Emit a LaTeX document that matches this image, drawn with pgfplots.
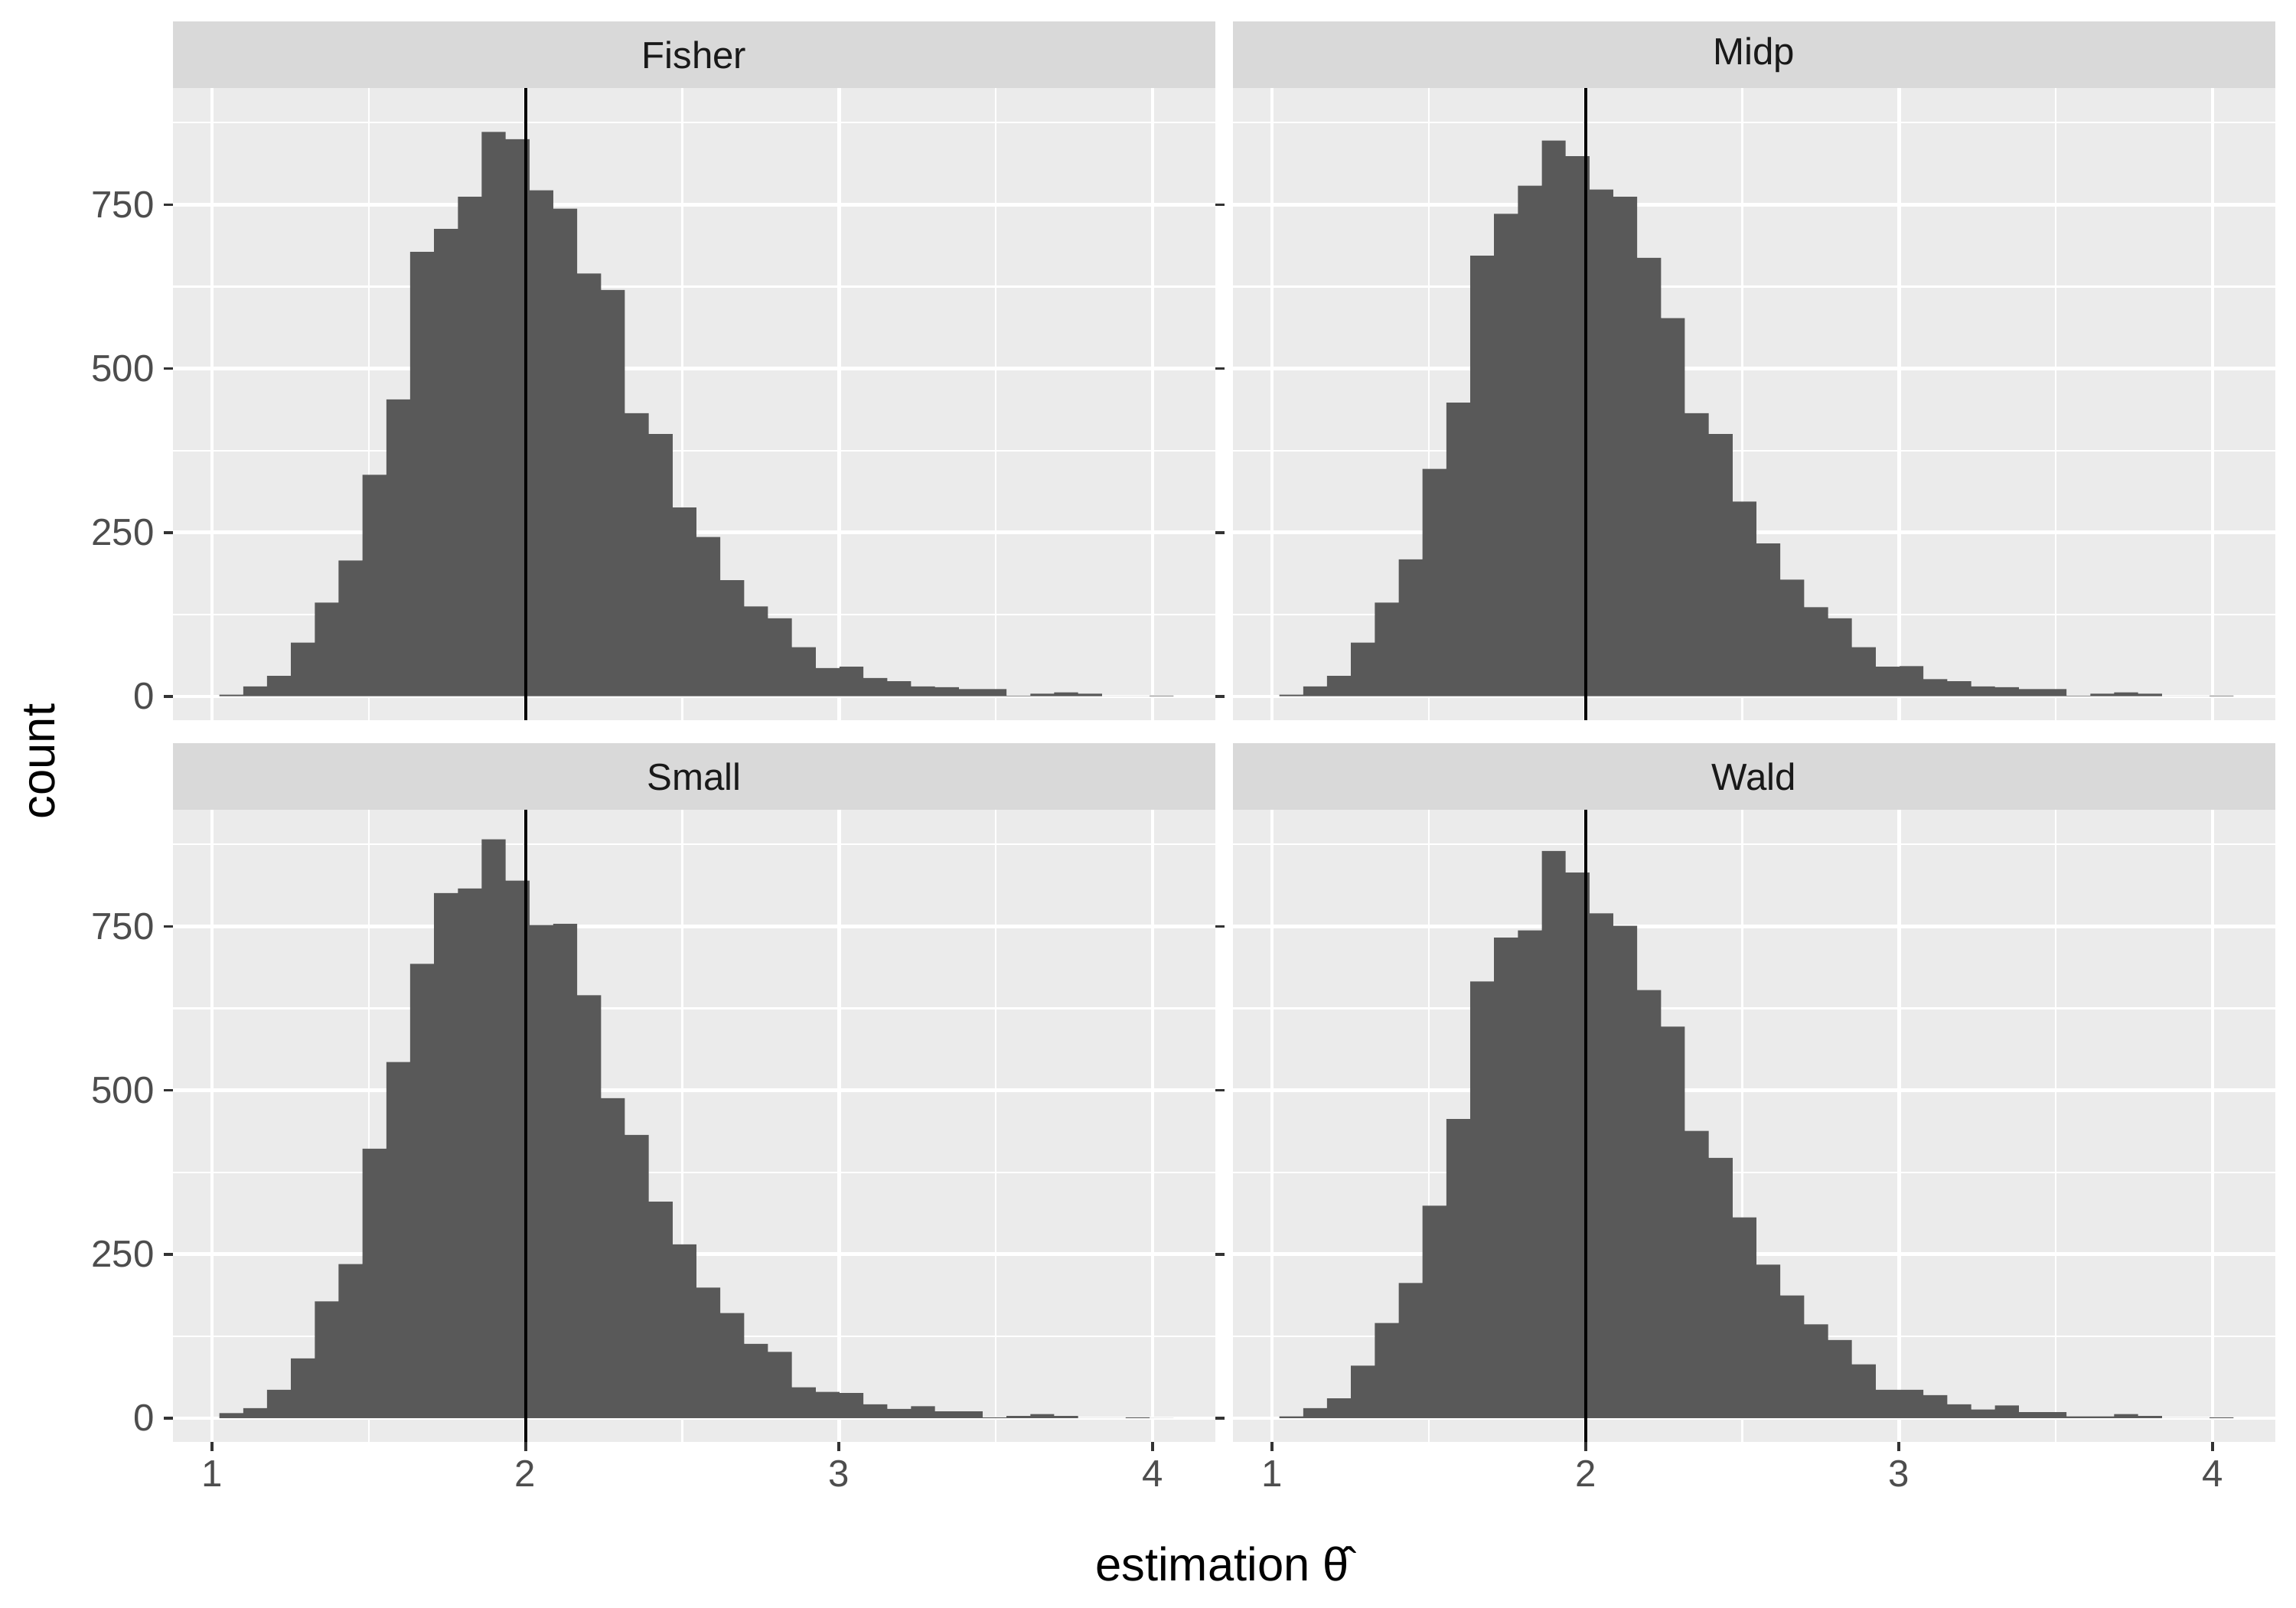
\documentclass[border=0pt]{standalone}
\usepackage{pgfplots}
\pgfplotsset{compat=1.18}
\usepackage{pgfplotstable}
\usepackage{fontspec}
\setmainfont{Liberation Sans}
\definecolor{panelbg}{RGB}{235,235,235}
\definecolor{stripbg}{RGB}{217,217,217}
\definecolor{barfill}{RGB}{89,89,89}
\definecolor{txt30}{RGB}{77,77,77}
\definecolor{tick20}{RGB}{51,51,51}
\pgfplotstableread{
e F M S W
1.0236 2.5 2.5 7.5 2.5
1.0997 15 15 15 15
1.1757 31 31 43 30
1.2518 82 82 91 80
1.3279 143 143 178 145
1.4040 207 209 235 206
1.4800 338 347 411 324
1.5561 453 448 543 456
1.6322 678 672 693 666
1.7083 713 736 801 733
1.7843 762 779 808 744
1.8604 861 848 883 865
1.9365 850 824 820 832
2.0125 772 773 752 770
2.0886 744 762 754 751
2.1647 645 669 645 653
2.2408 620 577 488 597
2.3168 432 432 432 438
2.3929 400 400 330 397
2.4690 288 297 265 306
2.5450 243 233 199 234
2.6211 177 178 160 187
2.6972 137 136 113 143
2.7733 119 119 101 119
2.8493 75 75 47 82
2.9254 43 45 40 43
3.0015 45 46 38 43
3.0775 28 26 21 35
3.1536 23 23 14 21
3.2297 15 15 18 13
3.3058 14 14 10 19
3.3818 11 11 10 9
3.4579 11 11 1 9
3.5340 1 1 3 2.5
3.6100 4 4 6 2.5
3.6861 6 6 3 6
3.7622 4 4 0 3
3.8383 0 0 0 0
3.9143 0 0 1 0
3.9904 1 1 0 1
4.0665 0 0 0 0
}\hist
\pgfplotsset{
  panel/.style={
    width=13.62cm, height=8.26cm, scale only axis,
    xmin=0.8756, xmax=4.200, ymin=-36.5, ymax=928,
    axis background/.style={fill=panelbg},
    axis line style={draw=none},
    xtick={1,2,3,4}, ytick={0,250,500,750},
    minor xtick={1.5,2.5,3.5}, minor ytick={125,375,625,875},
    grid=both,
    major grid style={white, line width=1.25pt},
    minor grid style={white, line width=0.6pt},
    tick align=outside, major tick length=0.12cm, minor tick length=0pt,
    tick style={tick20, line width=1.1pt},
    ticklabel style={font=\fontsize{14}{16}\selectfont, text=txt30},
    /pgf/number format/assume math mode=true,
    scaled ticks=false,
    clip=false,
    axis on top=false,
  },
  notx/.style={xticklabels={}, x tick style={draw=none}},
  noty/.style={yticklabels={}, y tick style={draw=none}},
}
\newcommand{\panel}[2]{%
  \addplot[ybar interval, fill=barfill, draw=none] table[x=e,y=#1] {\hist};
  \addplot[black, line width=1.1pt] coordinates {(2,-36.5) (2,928)};
  \fill[stripbg] (rel axis cs:0,1) rectangle ([yshift=0.87cm]rel axis cs:1,1);
  \node[font=\fontsize{14}{16}\selectfont, text=black!90] at ([yshift=0.435cm]rel axis cs:0.5,1) {#2};
}
\begin{document}
\begin{tikzpicture}
\useasboundingbox (0,0) rectangle (30,21);
\begin{axis}[panel, notx, at={(2.26cm,11.59cm)}, anchor=south west]
\panel{F}{Fisher}
\end{axis}
\begin{axis}[panel, notx, noty, at={(16.11cm,11.59cm)}, anchor=south west]
\panel{M}{Midp}
\end{axis}
\begin{axis}[panel, at={(2.26cm,2.16cm)}, anchor=south west]
\panel{S}{Small}
\end{axis}
\begin{axis}[panel, noty, at={(16.11cm,2.16cm)}, anchor=south west]
\panel{W}{Wald}
\end{axis}
\node[rotate=90, font=\fontsize{17.5}{20}\selectfont] at (0.52,11.05) {count};
\node[font=\fontsize{17.5}{20}\selectfont] at (15.97,0.57) {estimation \^{θ}};
\end{tikzpicture}
\end{document}
